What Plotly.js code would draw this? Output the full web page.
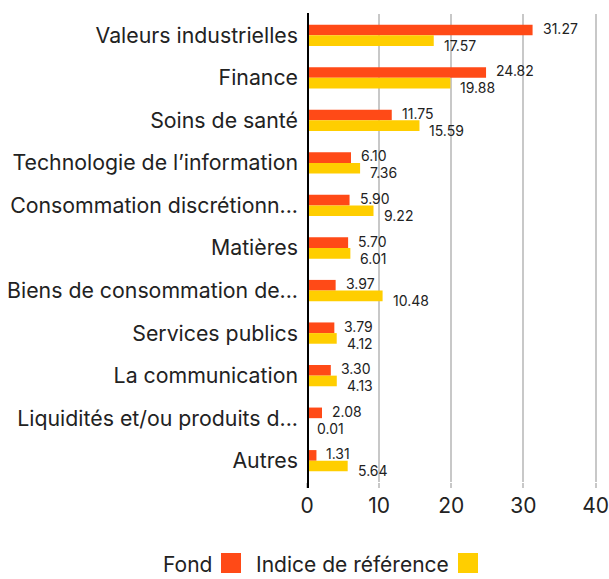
<!DOCTYPE html>
<html><head><meta charset="utf-8">
<script src="https://cdn.plot.ly/plotly-3.0.1.min.js"></script>
<style>body{margin:0;padding:0;background:#fff}#c{width:609px;height:579px}</style>
</head><body><div id="c"></div>
<script>
const categories = ["Valeurs industrielles","Finance","Soins de santé","Technologie de l’information","Consommation discrétionn...","Matières","Biens de consommation de...","Services publics","La communication","Liquidités et/ou produits d...","Autres"];
const fond = [31.27,24.82,11.75,6.10,5.90,5.70,3.97,3.79,3.30,2.08,1.31];
const indice = [17.57,19.88,15.59,7.36,9.22,6.01,10.48,4.12,4.13,0.01,5.64];
const tickVals = [0,10,20,30,40];
const seriesNames = ["Fond","Indice de référence"];
const colors = ["#FF4A17","#FFCE00"];

const FONT = "Inter, 'Open Sans', sans-serif";
const W=609,H=579, M={l:307,r:12,t:14,b:97};
const PW=W-M.l-M.r, PH=H-M.t-M.b;
const px=(x)=>(x-M.l)/PW, py=(y)=>1-(y-M.t)/PH;

const traces = [
  {type:'bar',orientation:'h',y:categories,x:fond,name:seriesNames[0],marker:{color:colors[0]},hoverinfo:'x'},
  {type:'bar',orientation:'h',y:categories,x:indice,name:seriesNames[1],marker:{color:colors[1]},hoverinfo:'x'}
];
const annotations = [];
categories.forEach((c,i)=>{
  annotations.push({x:fond[i],y:c,xref:'x',yref:'y',text:fond[i].toFixed(2),showarrow:false,xanchor:'left',xshift:8,yshift:7,font:{family:FONT,size:14,color:'#222'}});
  annotations.push({x:indice[i],y:c,xref:'x',yref:'y',text:indice[i].toFixed(2),showarrow:false,xanchor:'left',xshift:8,yshift:-10,font:{family:FONT,size:14,color:'#222'}});
});
// custom legend: text followed by swatch
annotations.push({x:px(214),y:py(564),xref:'paper',yref:'paper',xanchor:'right',yanchor:'middle',text:seriesNames[0],showarrow:false,font:{size:21,family:FONT,color:'#222'}});
annotations.push({x:px(451),y:py(564),xref:'paper',yref:'paper',xanchor:'right',yanchor:'middle',text:seriesNames[1],showarrow:false,font:{size:21,family:FONT,color:'#222'}});

const layout = {
  width:W,height:H,
  margin:M,
  paper_bgcolor:'#fff',plot_bgcolor:'#fff',
  barmode:'group',bargap:0.5,bargroupgap:0,
  showlegend:false,
  font:{family:FONT,color:'#222'},
  xaxis:{range:[0,40.2],tickvals:tickVals,ticktext:tickVals.map(String),showgrid:true,gridcolor:'#c8c8c8',gridwidth:2,ticklabeloverflow:'allow',
         zeroline:false,showline:false,tickfont:{size:21,family:FONT,color:'#222'},ticks:'outside',ticklen:5,tickwidth:2,tickcolor:'#c8c8c8'},
  yaxis:{type:'category',autorange:'reversed',tickfont:{size:21.3,family:FONT,color:'#222'},ticks:'',showgrid:false,zeroline:false,showline:false,ticklabelstandoff:8},
  annotations:annotations,
  shapes:[
    {type:'line',xref:'x',yref:'paper',x0:0,x1:0,y0:py(488),y1:py(13),line:{color:'#000',width:4},layer:'above'},
    {type:'rect',xref:'paper',yref:'paper',x0:px(221),x1:px(241),y0:py(573),y1:py(553),fillcolor:colors[0],line:{width:0}},
    {type:'rect',xref:'paper',yref:'paper',x0:px(458),x1:px(478),y0:py(573),y1:py(553),fillcolor:colors[1],line:{width:0}}
  ]
};
Plotly.newPlot('c',traces,layout,{displayModeBar:false,staticPlot:true});
</script></body></html>
